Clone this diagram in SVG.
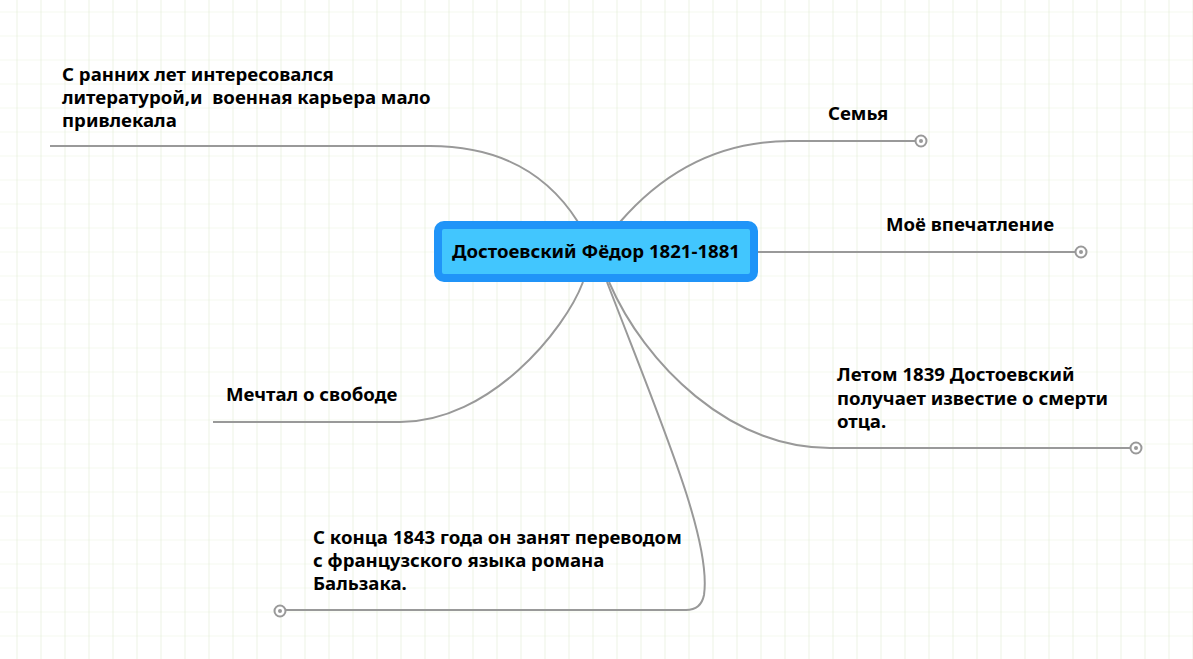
<svg xmlns="http://www.w3.org/2000/svg" width="1193" height="659" viewBox="0 0 1193 659">
<defs>
<pattern id="grid" x="16.5" y="11.5" width="24" height="24" patternUnits="userSpaceOnUse">
<line x1="0" y1="0" x2="24" y2="0" stroke="#edf3e3" stroke-width="1.2"/>
<line x1="0" y1="0" x2="0" y2="24" stroke="#e0ebd2" stroke-width="1.2"/>
</pattern>
<style>
.t{font-family:"Noto Sans","Open Sans","Liberation Sans",sans-serif;font-weight:bold;font-size:18.6px;fill:#000;}
.c{fill:none;stroke:#999999;stroke-width:2;}
.end{fill:#ffffff;stroke:#999999;stroke-width:2;}
.dot{fill:#999999;}
</style>
</defs>
<rect x="0" y="0" width="1193" height="659" fill="#ffffff"/>
<rect x="0" y="0" width="1193" height="659" fill="url(#grid)"/>
<g id="connectors">
<path class="c" d="M50 146 H430 Q530 146 578 222"/>
<path class="c" d="M620 222 Q690 141 790 141 H915"/>
<path class="c" d="M757 252 H1075"/>
<path class="c" d="M583 282 C565 330 490 422 400 422 H213"/>
<path class="c" d="M609 282 C645 365 730 448 830 448 H1130"/>
<path class="c" d="M607 282 C660 420 712 540 704 595 Q701 610 686 610 H286"/>
</g>
<g id="center">
<rect x="438" y="225" width="316" height="53" rx="6" fill="#42c6fe" stroke="#2094f8" stroke-width="8"/>
<text class="t" x="596" y="257.5" text-anchor="middle" font-size="19.6">Достоевский Фёдор 1821-1881</text>
</g>
<g id="n-early">
<text class="t" xml:space="preserve"><tspan x="62" y="81">С ранних лет интересовался</tspan><tspan x="62" y="104">литературой,и  военная карьера мало</tspan><tspan x="62" y="127">привлекала</tspan></text>
</g>
<g id="n-family">
<text class="t" x="828" y="120">Семья</text>
<circle class="end" cx="921" cy="141" r="5.5"/><circle class="dot" cx="921" cy="141" r="2"/>
</g>
<g id="n-impression">
<text class="t" x="886" y="231">Моё впечатление</text>
<circle class="end" cx="1081" cy="252" r="5.5"/><circle class="dot" cx="1081" cy="252" r="2"/>
</g>
<g id="n-freedom">
<text class="t" x="226" y="401">Мечтал о свободе</text>
</g>
<g id="n-father">
<text class="t"><tspan x="837" y="381">Летом 1839 Достоевский</tspan><tspan x="837" y="404.5">получает известие о смерти</tspan><tspan x="837" y="428">отца.</tspan></text>
<circle class="end" cx="1136" cy="448" r="5.5"/><circle class="dot" cx="1136" cy="448" r="2"/>
</g>
<g id="n-balzac">
<text class="t"><tspan x="313" y="544">С конца 1843 года он занят переводом</tspan><tspan x="313" y="567">с французского языка романа</tspan><tspan x="313" y="590">Бальзака.</tspan></text>
<circle class="end" cx="280" cy="611" r="5.5"/><circle class="dot" cx="280" cy="611" r="2"/>
</g>
</svg>
